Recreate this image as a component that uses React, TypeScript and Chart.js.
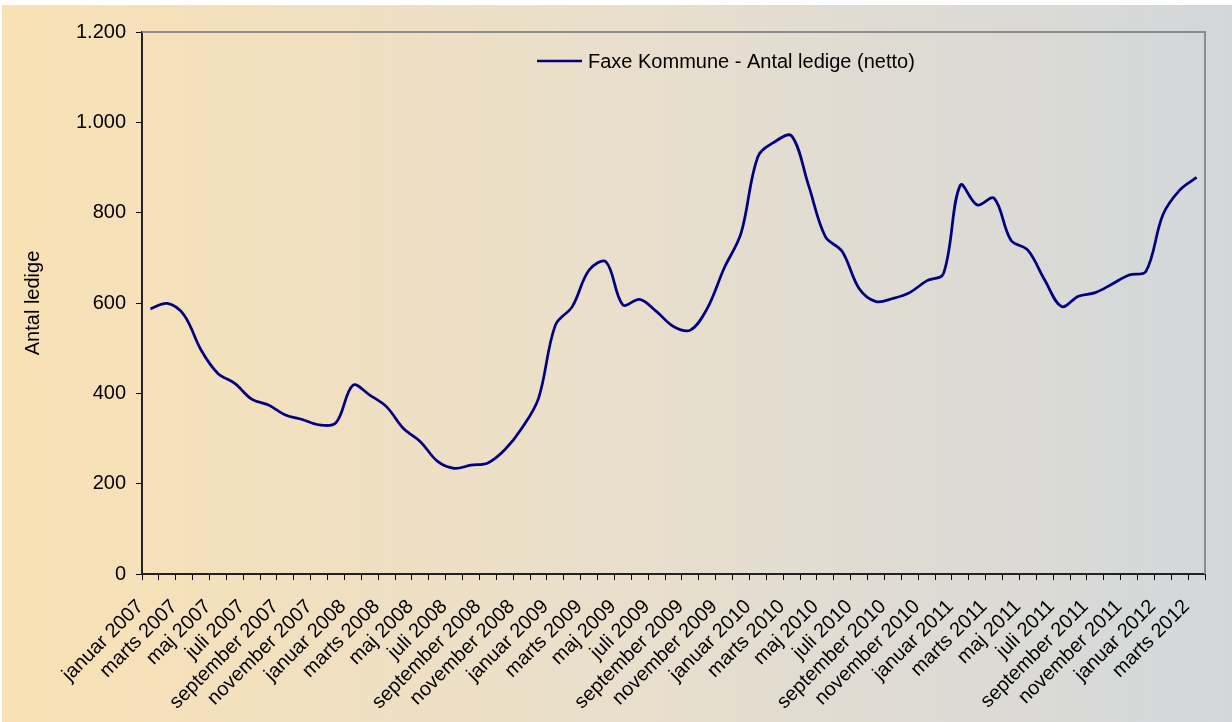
import React, { useEffect, useRef } from "react";
import { Chart, registerables } from "chart.js";

Chart.register(...registerables);

const monthNames = [
  "januar", "februar", "marts", "april", "maj", "juni",
  "juli", "august", "september", "oktober", "november", "december",
];
const years = [2007, 2008, 2009, 2010, 2011, 2012];
const monthCount = 63; // januar 2007 .. marts 2012

const categories: string[] = [];
for (const y of years) {
  for (const m of monthNames) {
    if (categories.length < monthCount) categories.push(`${m} ${y}`);
  }
}

const seriesLabel = "Faxe Kommune - Antal ledige (netto)";
const ledige = [
  587, 599, 573, 496, 444, 422, 387, 374, 352, 342, 330, 335,
  418, 396, 370, 322, 293, 250, 234, 241, 246, 275, 322, 389,
  551, 592, 673, 691, 596, 608, 581, 548, 540, 588, 677, 754,
  924, 957, 970, 861, 747, 714, 632, 603, 610, 623, 649, 665,
  861, 817, 832, 739, 717, 651, 592, 615, 623, 642, 662, 670,
  795, 850, 878,
];
const yTicks = [0, 200, 400, 600, 800, 1000, 1200];
const yTitle = "Antal ledige";

const FONT = "'Liberation Sans', Arial, sans-serif";

function fmt(v: number): string {
  const s = String(Math.round(v));
  return s.replace(/\B(?=(\d{3})+(?!\d))/g, ".");
}

const bgPlugin = {
  id: "bg",
  beforeDraw(chart: any) {
    const ctx = chart.ctx;
    const w = chart.width;
    const h = chart.height;
    ctx.save();
    ctx.fillStyle = "#ffffff";
    ctx.fillRect(0, 0, w, h);
    const g = ctx.createLinearGradient(2, 0, w, 0);
    g.addColorStop(0, "#f9e1b4");
    g.addColorStop(0.5, "#e9dfcc");
    g.addColorStop(1, "#d3d7db");
    ctx.fillStyle = g;
    ctx.fillRect(2, 5, w - 2, h - 5);
    ctx.restore();
  },
  beforeDatasetsDraw(chart: any) {
    const { ctx, chartArea } = chart;
    ctx.save();
    ctx.strokeStyle = "#8c8c8c";
    ctx.lineWidth = 2;
    ctx.beginPath();
    ctx.moveTo(chartArea.left, chartArea.top);
    ctx.lineTo(chartArea.right, chartArea.top);
    ctx.lineTo(chartArea.right, chartArea.bottom);
    ctx.stroke();
    ctx.restore();
  },
  afterDraw(chart: any) {
    const ctx = chart.ctx;
    const ds = chart.data.datasets[0];
    ctx.save();
    ctx.strokeStyle = ds.borderColor;
    ctx.lineWidth = 2.5;
    ctx.beginPath();
    ctx.moveTo(537, 61);
    ctx.lineTo(582, 61);
    ctx.stroke();
    ctx.fillStyle = "#000";
    ctx.font = `20px ${FONT}`;
    ctx.textBaseline = "middle";
    ctx.textAlign = "left";
    ctx.fillText(ds.label, 588, 62);
    ctx.restore();
  },
};

export default function App() {
  const ref = useRef<HTMLCanvasElement | null>(null);

  useEffect(() => {
    if (!ref.current) return;
    const chart = new Chart(ref.current, {
      type: "line",
      data: {
        labels: categories,
        datasets: [
          {
            label: seriesLabel,
            data: ledige,
            borderColor: "#000080",
            borderWidth: 2.75,
            pointRadius: 0,
            tension: 0.35,
            fill: false,
          },
        ],
      },
      options: {
        responsive: false,
        animation: false,
        layout: { padding: { left: 21, top: 32, right: 27, bottom: 0 } },
        plugins: {
          legend: { display: false },
          tooltip: { enabled: false },
          title: { display: false },
        },
        scales: {
          x: {
            type: "category",
            offset: true,
            grid: {
              display: true,
              drawOnChartArea: false,
              drawTicks: true,
              tickLength: 6,
              color: "#000",
              lineWidth: 1,
              offset: true,
            },
            border: { display: true, color: "#222", width: 2 },
            ticks: {
              autoSkip: false,
              maxRotation: 45,
              minRotation: 45,
              padding: 15,
              labelOffset: -10,
              color: "#000",
              font: { family: FONT, size: 20 },
              callback: (_v: any, i: number) => (i % 2 === 0 ? categories[i] : ""),
            },
            afterFit: (s: any) => {
              s.height = 148;
            },
          },
          y: {
            min: 0,
            max: 1200,
            afterBuildTicks: (s: any) => {
              s.ticks = yTicks.map((v) => ({ value: v }));
            },
            grid: {
              display: true,
              drawOnChartArea: false,
              drawTicks: true,
              tickLength: 6,
              color: "#000",
              lineWidth: 1,
            },
            border: { display: true, color: "#222", width: 2 },
            ticks: {
              padding: 10,
              color: "#000",
              font: { family: FONT, size: 20 },
              callback: (v: any) => fmt(Number(v)),
            },
            title: {
              display: true,
              text: yTitle,
              color: "#000",
              font: { family: FONT, size: 20 },
              padding: 0,
            },
            afterFit: (s: any) => {
              s.width = 121;
            },
          },
        },
      },
      plugins: [bgPlugin],
    });
    return () => chart.destroy();
  }, []);

  return (
    <div style={{ position: "absolute", left: 0, top: 0, width: 1232, height: 722 }}>
      <canvas ref={ref} width={1232} height={722} style={{ display: "block" }} />
    </div>
  );
}
